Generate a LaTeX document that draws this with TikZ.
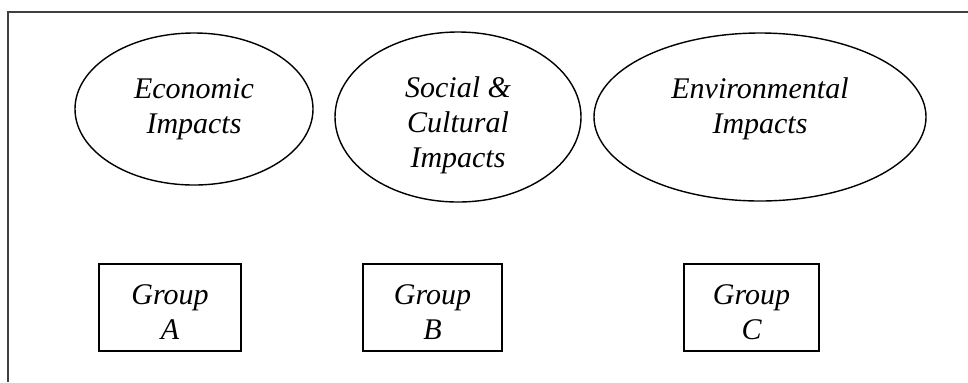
\documentclass[tikz,border=0pt]{standalone}
\usepackage{fontspec}
\setmainfont{Liberation Serif}
\usetikzlibrary{shapes.geometric}
\tikzset{
    impact/.style={draw, ellipse, inner sep=0pt, line width=0.7pt},
    groupbox/.style={draw, rectangle, inner sep=0pt, line width=0.8pt,
        minimum height=43.5pt},
}
\begin{document}
\begin{tikzpicture}[x=0.5pt, y=-0.5pt,
        every node/.style={font=\itshape\fontsize{15}{17.5}\selectfont},
        every label/.style={align=center}]
    \useasboundingbox (0,0) rectangle (968,382);
    % open frame
    \draw[line width=1pt, black!75] (968,12) -- (8,12) -- (8,382);
    % impacts
    \node[impact, minimum width=119pt, minimum height=76pt,
        label={center:Economic\\Impacts}] (econ) at (194,109) {};
    \node[impact, minimum width=123pt, minimum height=85pt,
        label={[yshift=-4pt]center:Social \&\\Cultural\\Impacts}] (soc) at (458,117) {};
    \node[impact, minimum width=166pt, minimum height=84pt,
        label={[yshift=4pt]center:Environmental\\Impacts}] (env) at (760,117) {};
    % groups
    \node[groupbox, minimum width=71pt,
        label={[yshift=-2.5pt]center:Group\\A}] (grpA) at (170,307.5) {};
    \node[groupbox, minimum width=69.5pt,
        label={[yshift=-2.5pt]center:Group\\B}] (grpB) at (432.5,307.5) {};
    \node[groupbox, minimum width=67.5pt,
        label={[yshift=-2.5pt]center:Group\\C}] (grpC) at (751.5,307.5) {};
\end{tikzpicture}
\end{document}
